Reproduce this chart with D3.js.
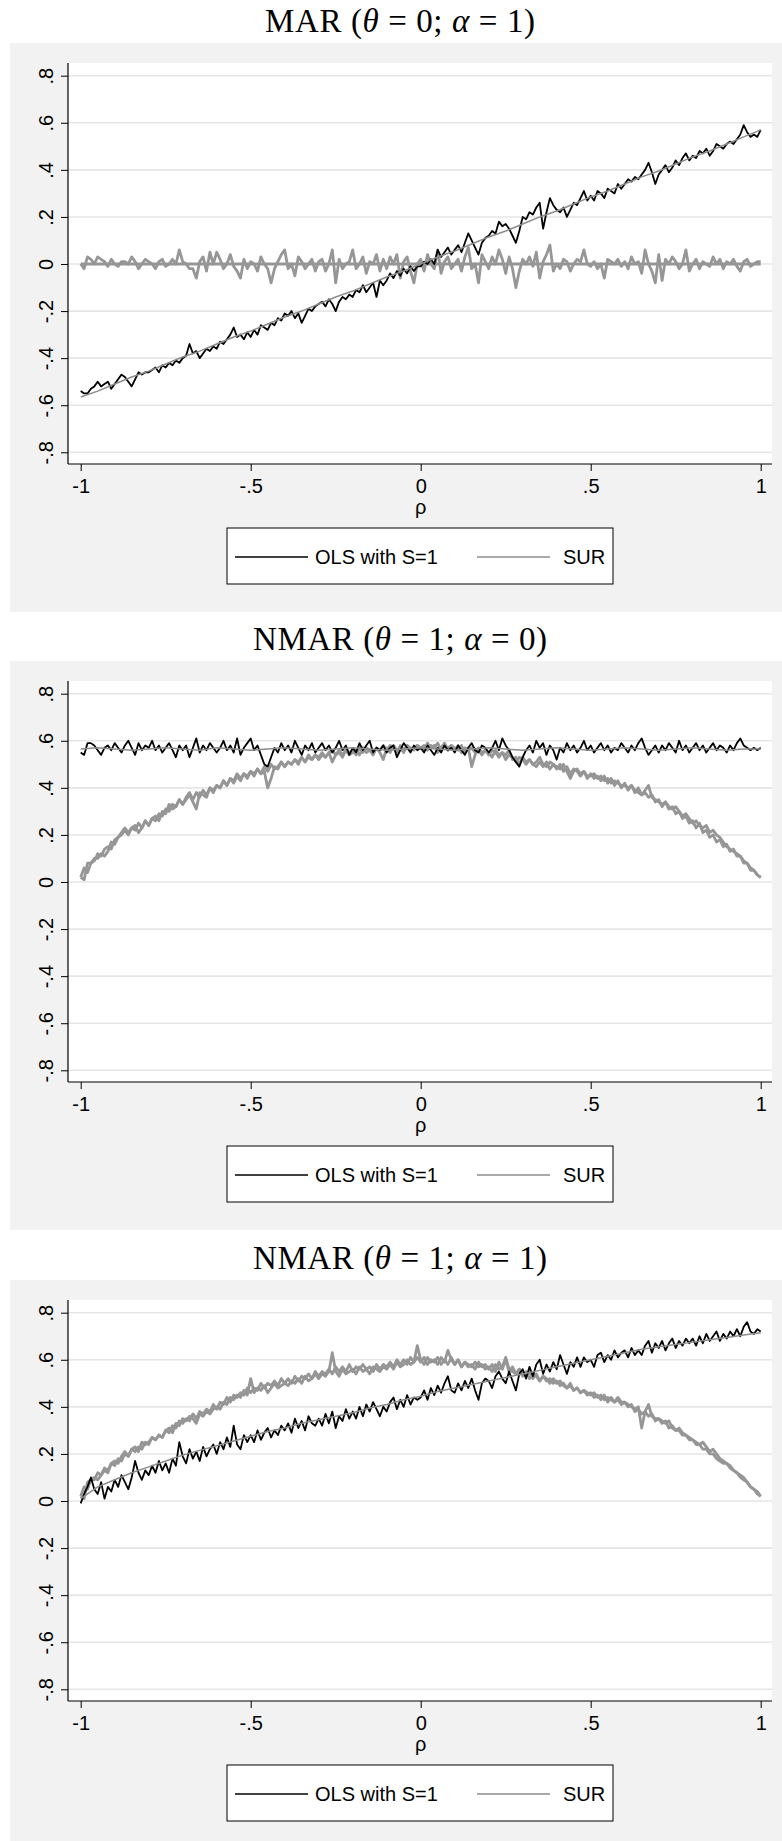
<!DOCTYPE html>
<html><head><meta charset="utf-8">
<script src="https://cdn.jsdelivr.net/npm/d3@7"></script>
<style>body{margin:0;background:#fff}svg{display:block}</style>
</head><body>
<svg id="c" width="782" height="1841"></svg>
<script>
// ---------- shared axes / categories ----------
const rho = [
-1,-.99,-.98,-.97,-.96,-.95,-.94,-.93,-.92,-.91,
-.9,-.89,-.88,-.87,-.86,-.85,-.84,-.83,-.82,-.81,
-.8,-.79,-.78,-.77,-.76,-.75,-.74,-.73,-.72,-.71,
-.7,-.69,-.68,-.67,-.66,-.65,-.64,-.63,-.62,-.61,
-.6,-.59,-.58,-.57,-.56,-.55,-.54,-.53,-.52,-.51,
-.5,-.49,-.48,-.47,-.46,-.45,-.44,-.43,-.42,-.41,
-.4,-.39,-.38,-.37,-.36,-.35,-.34,-.33,-.32,-.31,
-.3,-.29,-.28,-.27,-.26,-.25,-.24,-.23,-.22,-.21,
-.2,-.19,-.18,-.17,-.16,-.15,-.14,-.13,-.12,-.11,
-.1,-.09,-.08,-.07,-.06,-.05,-.04,-.03,-.02,-.01,
0,.01,.02,.03,.04,.05,.06,.07,.08,.09,
.1,.11,.12,.13,.14,.15,.16,.17,.18,.19,
.2,.21,.22,.23,.24,.25,.26,.27,.28,.29,
.3,.31,.32,.33,.34,.35,.36,.37,.38,.39,
.4,.41,.42,.43,.44,.45,.46,.47,.48,.49,
.5,.51,.52,.53,.54,.55,.56,.57,.58,.59,
.6,.61,.62,.63,.64,.65,.66,.67,.68,.69,
.7,.71,.72,.73,.74,.75,.76,.77,.78,.79,
.8,.81,.82,.83,.84,.85,.86,.87,.88,.89,
.9,.91,.92,.93,.94,.95,.96,.97,.98,.99,
1];
const rhoSmooth = [-1,-.95,-.9,-.85,-.8,-.75,-.7,-.65,-.6,-.55,-.5,-.45,-.4,-.35,-.3,-.25,-.2,-.15,-.1,-.05,0,.05,.1,.15,.2,.25,.3,.35,.4,.45,.5,.55,.6,.65,.7,.75,.8,.85,.9,.95,1];
const yTicks = [-0.8,-0.6,-0.4,-0.2,0,0.2,0.4,0.6,0.8];
const yTickLabels = ["-.8","-.6","-.4","-.2","0",".2",".4",".6",".8"];
const xTicks = [-1,-0.5,0,0.5,1];
const xTickLabels = ["-1","-.5","0",".5","1"];
const xLabel = "ρ";
const legendLabels = ["OLS with S=1","SUR"];
const title1 = [["MAR (",0],["θ",1],[" = 0; ",0],["α",1],[" = 1)",0]];
const title2 = [["NMAR (",0],["θ",1],[" = 1; ",0],["α",1],[" = 0)",0]];
const title3 = [["NMAR (",0],["θ",1],[" = 1; ",0],["α",1],[" = 1)",0]];

// ---------- panel 1: MAR ----------
const ols1 = [
-.54,-.55,-.55,-.53,-.52,-.50,-.52,-.51,-.50,-.53,
-.51,-.49,-.47,-.48,-.50,-.52,-.49,-.46,-.47,-.46,
-.46,-.45,-.44,-.46,-.43,-.44,-.42,-.43,-.41,-.42,
-.40,-.39,-.34,-.38,-.37,-.40,-.38,-.36,-.37,-.35,
-.36,-.33,-.34,-.32,-.30,-.27,-.31,-.30,-.32,-.29,
-.31,-.28,-.30,-.26,-.27,-.28,-.25,-.26,-.23,-.24,
-.21,-.22,-.20,-.23,-.21,-.25,-.22,-.19,-.20,-.18,
-.17,-.16,-.18,-.15,-.17,-.20,-.16,-.14,-.15,-.13,
-.14,-.11,-.12,-.09,-.12,-.10,-.08,-.14,-.07,-.09,
-.07,-.04,-.06,-.03,-.05,-.02,-.04,-.01,-.03,-.01,
-.01,.01,.00,.02,.00,.06,.03,.05,.07,.04,
.06,.08,.05,.09,.13,.10,.07,.04,.09,.11,
.12,.14,.13,.18,.16,.17,.15,.12,.09,.14,
.20,.19,.22,.21,.24,.26,.15,.22,.28,.25,
.23,.22,.24,.20,.23,.26,.25,.28,.31,.27,
.29,.27,.31,.30,.28,.32,.31,.30,.34,.32,
.34,.36,.35,.37,.36,.38,.40,.43,.39,.34,
.38,.40,.42,.39,.41,.44,.42,.45,.47,.44,
.46,.45,.48,.47,.49,.46,.48,.51,.50,.49,
.51,.52,.51,.53,.55,.59,.56,.54,.55,.54,
.57];
const olsFit1 = [-.565,-.54,-.51,-.48,-.455,-.425,-.395,-.37,-.34,-.31,-.285,-.255,-.225,-.2,-.17,-.14,-.115,-.085,-.055,-.03,0,.03,.055,.085,.115,.14,.17,.2,.225,.255,.285,.31,.34,.37,.395,.425,.455,.48,.51,.54,.57];
const sur1 = [
.00,-.02,.03,.02,.00,.03,.02,.01,-.01,.02,
.00,-.01,.01,.01,.00,.03,.01,-.02,.00,.02,
.01,.00,-.02,.01,.02,-.01,.00,.02,.00,.06,
.01,.00,-.02,-.02,-.06,.01,.03,-.03,.05,.00,
.05,.02,-.02,.00,.04,-.01,-.03,-.06,.02,-.02,
.01,.00,-.03,.03,.00,-.02,-.08,-.02,.01,.04,
.06,-.02,.00,-.05,.03,.01,-.02,.00,.02,-.03,
.01,.02,-.03,.00,.06,-.08,.02,-.02,.00,.01,
.06,-.02,.00,.03,-.04,.01,.00,.04,-.03,.02,
-.02,.03,.00,.04,-.06,.01,.03,-.03,-.08,.00,
.02,-.03,.04,.00,-.02,.06,-.04,.01,.03,-.02,
.00,.02,-.03,.03,.07,-.02,.00,-.08,.04,.01,
-.02,.03,.00,.06,.02,-.04,.03,-.02,-.10,-.03,
.02,.00,.03,-.01,.05,-.06,.01,.04,.08,-.03,
.00,-.02,.02,.01,-.03,.00,.02,.01,.06,.00,
-.01,.01,-.02,.00,-.06,.02,.01,.00,.02,-.01,
.01,-.02,.03,.00,.01,-.04,.06,.00,-.03,-.08,
.04,-.07,.02,.00,.03,.01,-.02,.00,.06,-.03,
.00,.02,-.02,.01,.00,-.01,.03,.00,.02,-.02,
.01,.00,.02,-.01,-.03,.01,.02,-.01,.00,.01,
.01];
const surFit1 = [0,0,0,0,0,0,0,0,0,0,0,0,0,0,0,0,0,0,0,0,0,0,0,0,0,0,0,0,0,0,0,0,0,0,0,0,0,0,0,0,0];

// ---------- panel 2: NMAR theta=1 alpha=0 ----------
const ols2 = [
.55,.54,.59,.59,.58,.56,.54,.57,.58,.56,
.59,.57,.55,.58,.60,.57,.54,.59,.56,.58,
.57,.60,.56,.58,.55,.57,.59,.56,.53,.58,
.56,.58,.53,.57,.61,.55,.58,.56,.59,.57,
.55,.57,.60,.56,.58,.55,.61,.54,.57,.59,
.61,.56,.58,.54,.50,.49,.53,.57,.55,.59,
.56,.58,.55,.60,.57,.54,.58,.56,.59,.55,
.57,.59,.56,.58,.55,.57,.60,.56,.58,.54,
.57,.55,.59,.56,.58,.60,.55,.57,.56,.58,
.55,.57,.58,.53,.56,.59,.57,.55,.58,.56,
.57,.55,.58,.56,.54,.57,.55,.58,.56,.57,
.55,.58,.56,.54,.57,.59,.56,.55,.58,.57,
.55,.57,.60,.56,.61,.58,.56,.53,.51,.49,
.53,.56,.58,.55,.60,.57,.59,.54,.58,.56,
.52,.57,.55,.59,.56,.58,.55,.57,.60,.56,
.58,.55,.57,.59,.56,.58,.55,.57,.56,.59,
.57,.55,.58,.56,.59,.61,.57,.54,.56,.58,
.55,.58,.56,.59,.57,.55,.60,.56,.58,.55,
.57,.59,.56,.58,.55,.57,.59,.56,.58,.57,
.55,.58,.56,.59,.61,.58,.57,.56,.57,.56,
.57];
const olsFit2 = [.565,.57,.565,.56,.565,.57,.565,.56,.57,.565,.56,.565,.57,.565,.56,.565,.57,.565,.56,.565,.57,.565,.56,.565,.57,.565,.56,.565,.57,.565,.56,.565,.57,.565,.56,.565,.57,.565,.56,.565,.565];
const sur2 = [
.02,.01,.08,.08,.10,.10,.12,.11,.13,.17,
.16,.19,.20,.22,.20,.23,.24,.21,.23,.26,
.24,.27,.28,.26,.30,.29,.33,.31,.32,.35,
.33,.35,.37,.34,.31,.38,.37,.36,.40,.38,
.41,.40,.43,.41,.44,.42,.45,.43,.46,.44,
.47,.45,.48,.46,.47,.40,.44,.49,.48,.51,
.49,.51,.50,.52,.50,.53,.51,.53,.52,.54,
.52,.54,.53,.55,.51,.54,.55,.53,.56,.54,
.55,.56,.54,.57,.55,.56,.54,.57,.55,.52,
.57,.55,.58,.56,.57,.55,.58,.56,.57,.58,
.57,.56,.59,.57,.58,.55,.57,.59,.56,.58,
.57,.56,.58,.55,.57,.49,.54,.57,.55,.56,
.54,.56,.55,.53,.55,.54,.56,.52,.53,.50,
.53,.51,.52,.50,.51,.53,.50,.49,.51,.50,
.49,.48,.50,.47,.44,.47,.48,.46,.47,.45,
.45,.46,.44,.45,.43,.44,.42,.43,.42,.41,
.41,.40,.41,.39,.38,.37,.39,.41,.36,.35,
.34,.33,.34,.32,.31,.32,.30,.28,.29,.27,
.25,.26,.24,.23,.24,.21,.22,.20,.19,.17,
.15,.14,.13,.12,.11,.09,.08,.06,.05,.03,
.02];
const surFit2 = [
.02,.06,.04,.08,.09,.12,.11,.14,.15,.14,
.18,.19,.21,.23,.21,.23,.22,.25,.23,.26,
.24,.27,.26,.29,.28,.31,.30,.33,.32,.35,
.33,.36,.38,.35,.38,.36,.39,.37,.40,.39,
.41,.40,.43,.41,.44,.43,.46,.44,.46,.45,
.47,.46,.48,.46,.49,.47,.50,.48,.49,.51,
.49,.51,.50,.52,.51,.53,.51,.54,.52,.54,
.53,.55,.53,.55,.56,.54,.56,.54,.56,.55,
.56,.54,.57,.55,.57,.56,.55,.57,.56,.58,
.56,.58,.57,.55,.58,.56,.58,.57,.56,.58,
.57,.58,.56,.58,.57,.59,.56,.58,.57,.58,
.56,.58,.55,.57,.56,.57,.55,.56,.54,.56,
.55,.53,.56,.54,.55,.52,.54,.53,.51,.53,
.52,.50,.52,.50,.49,.51,.49,.51,.48,.50,
.48,.50,.47,.49,.46,.48,.47,.45,.47,.44,
.46,.44,.45,.43,.45,.42,.44,.41,.43,.40,
.42,.39,.41,.38,.40,.37,.38,.36,.37,.34,
.35,.32,.34,.31,.32,.29,.30,.27,.28,.25,
.26,.23,.25,.21,.22,.19,.20,.17,.18,.15,
.16,.13,.14,.11,.11,.08,.08,.05,.05,.03,
.02];

// ---------- panel 3: NMAR theta=1 alpha=1 ----------
const ols3 = [
-.01,.03,.06,.10,.05,.03,.08,.01,.06,.04,
.09,.06,.11,.08,.05,.10,.17,.12,.09,.13,
.11,.15,.12,.17,.13,.16,.12,.18,.15,.25,
.19,.16,.22,.18,.21,.17,.23,.19,.22,.24,
.20,.25,.22,.27,.23,.32,.24,.22,.28,.25,
.28,.25,.30,.26,.29,.31,.27,.30,.28,.32,
.30,.33,.29,.35,.31,.34,.30,.36,.33,.32,
.35,.32,.37,.33,.38,.31,.36,.34,.39,.35,
.38,.35,.40,.36,.41,.38,.42,.39,.36,.40,
.38,.42,.44,.39,.43,.40,.45,.41,.44,.43,
.44,.47,.43,.48,.45,.49,.46,.50,.53,.47,
.46,.50,.47,.51,.48,.52,.47,.43,.50,.52,
.51,.48,.53,.55,.52,.50,.55,.51,.47,.54,
.56,.52,.57,.53,.58,.60,.54,.58,.55,.59,
.56,.62,.58,.54,.59,.57,.61,.57,.61,.59,
.60,.57,.62,.63,.59,.62,.60,.64,.61,.63,
.64,.61,.65,.62,.64,.62,.66,.68,.63,.67,
.65,.68,.64,.67,.69,.65,.68,.66,.69,.67,
.69,.66,.70,.67,.71,.68,.70,.72,.68,.71,
.69,.72,.70,.73,.70,.74,.76,.72,.71,.73,
.72];
const olsFit3 = [.01,.06,.09,.12,.145,.17,.195,.215,.235,.255,.275,.295,.31,.33,.345,.36,.375,.395,.41,.43,.445,.465,.48,.495,.51,.525,.54,.555,.57,.585,.60,.615,.63,.645,.655,.665,.675,.685,.695,.705,.715];
const sur3 = [
.02,.01,.08,.09,.10,.09,.11,.13,.12,.16,
.17,.16,.19,.21,.19,.22,.23,.21,.25,.24,
.25,.27,.26,.28,.27,.30,.31,.29,.33,.32,
.35,.34,.36,.35,.33,.37,.36,.38,.37,.39,
.40,.39,.42,.41,.44,.43,.45,.44,.47,.45,
.52,.46,.48,.47,.49,.46,.48,.50,.48,.49,
.50,.49,.51,.50,.52,.50,.53,.51,.52,.54,
.52,.54,.53,.55,.63,.55,.53,.56,.54,.55,
.56,.54,.57,.55,.56,.54,.57,.56,.55,.57,
.56,.58,.56,.59,.57,.58,.60,.58,.59,.66,
.60,.58,.61,.59,.60,.58,.61,.59,.64,.60,
.58,.60,.57,.59,.58,.57,.59,.57,.58,.56,
.57,.55,.58,.56,.57,.61,.56,.55,.54,.56,
.53,.55,.52,.54,.53,.51,.53,.52,.50,.52,
.50,.51,.49,.48,.50,.47,.48,.46,.47,.46,
.45,.46,.44,.45,.43,.44,.43,.42,.44,.42,
.42,.41,.40,.39,.40,.31,.38,.41,.36,.35,
.35,.34,.33,.34,.31,.30,.31,.29,.28,.27,
.26,.25,.24,.25,.23,.21,.22,.20,.18,.17,
.16,.15,.13,.12,.11,.10,.08,.06,.05,.03,
.02];
const surFit3 = [
.02,.06,.05,.09,.09,.12,.11,.14,.13,.16,
.15,.18,.17,.20,.19,.22,.21,.23,.22,.25,
.24,.27,.26,.28,.27,.30,.29,.32,.31,.34,
.33,.35,.34,.37,.35,.38,.37,.39,.38,.41,
.39,.42,.41,.44,.42,.45,.44,.46,.45,.48,
.46,.48,.47,.50,.48,.50,.49,.51,.49,.52,
.50,.52,.50,.53,.51,.53,.52,.54,.52,.55,
.53,.55,.54,.56,.54,.57,.55,.57,.55,.58,
.55,.57,.56,.58,.56,.57,.55,.58,.56,.58,
.57,.59,.57,.60,.58,.60,.58,.61,.59,.61,
.59,.61,.58,.60,.59,.61,.58,.60,.58,.61,
.58,.60,.57,.59,.57,.58,.56,.59,.57,.58,
.56,.58,.55,.59,.56,.60,.55,.57,.54,.56,
.55,.53,.55,.52,.54,.51,.53,.51,.52,.50,
.51,.49,.50,.48,.49,.47,.48,.46,.47,.45,
.46,.44,.45,.43,.45,.42,.44,.42,.43,.41,
.42,.40,.41,.38,.39,.37,.38,.36,.37,.34,
.35,.33,.34,.31,.32,.30,.30,.28,.28,.26,
.26,.24,.24,.22,.22,.20,.20,.18,.17,.16,
.16,.14,.13,.12,.10,.09,.08,.06,.05,.04,
.02];

// ---------- drawing ----------
const panels = [
  {title: title1, titleW: 270, ols: ols1, olsFit: olsFit1, sur: sur1, surFit: surFit1, surFitX: rhoSmooth},
  {title: title2, titleW: 294, ols: ols2, olsFit: olsFit2, sur: sur2, surFit: surFit2, surFitX: rho},
  {title: title3, titleW: 294, ols: ols3, olsFit: olsFit3, sur: sur3, surFit: surFit3, surFitX: rho}
];
const panelTops = [43, 661, 1280];
const BLACK = "#000", THICK = "#969696", THIN = "#8c8c8c";
const sans = "'Liberation Sans', Arial, Helvetica, sans-serif";
const svg = d3.select("#c");
svg.append("rect").attr("width",782).attr("height",1841).attr("fill","#fff");

panels.forEach((p, i) => {
  const G = panelTops[i];
  const g = svg.append("g");
  g.append("rect").attr("x",10).attr("y",G).attr("width",772).attr("height",569).attr("fill","#f2f2f2");

  const t = g.append("text").attr("x",400).attr("y",G-11)
    .attr("text-anchor","middle")
    .attr("font-family","'Liberation Serif','Times New Roman',serif")
    .attr("font-size",33).attr("fill","#000")
    .attr("textLength",p.titleW).attr("lengthAdjust","spacing");
  p.title.forEach(([s,it]) => t.append("tspan").attr("font-style", it ? "italic" : "normal").text(s));

  const x = d3.scaleLinear().domain([-1,1]).range([80.7,760.7]);
  const y = d3.scaleLinear().domain([-0.8,0.8]).range([G+409.3,G+32.7]);

  g.append("rect").attr("x",68).attr("y",G+20).attr("width",704).attr("height",401).attr("fill","#fff");
  g.append("g").selectAll("line").data(yTicks).join("line")
    .attr("x1",68).attr("x2",772).attr("y1",d=>y(d)).attr("y2",d=>y(d))
    .attr("stroke","#e6e6e6").attr("stroke-width",1.6);

  const line = xs => d3.line().x((d,k)=>x(xs[k])).y(d=>y(d));
  const plot = g.append("g").attr("fill","none").attr("stroke-linejoin","round");
  plot.append("path").attr("d", line(p.surFitX)(p.surFit)).attr("stroke",THICK).attr("stroke-width",2.8);
  plot.append("path").attr("d", line(rho)(p.sur)).attr("stroke",THICK).attr("stroke-width",2.8);
  plot.append("path").attr("d", line(rho)(p.ols)).attr("stroke",BLACK).attr("stroke-width",1.8);
  plot.append("path").attr("d", line(rhoSmooth)(p.olsFit)).attr("stroke",THIN).attr("stroke-width",1.5);

  // y axis
  const ya = g.append("g").attr("transform","translate(68,0)")
    .call(d3.axisLeft(y).tickValues(yTicks).tickFormat((d,k)=>yTickLabels[k]).tickSize(7).tickSizeOuter(0));
  ya.select(".domain").remove();
  ya.selectAll(".tick line").attr("stroke","#000");
  ya.selectAll(".tick text").attr("x",null).attr("y",null).attr("dy",null)
    .attr("transform","translate(-15,0) rotate(-90)").attr("text-anchor","middle")
    .attr("font-family",sans).attr("font-size",20).attr("fill","#000");
  // x axis
  const xa = g.append("g").attr("transform",`translate(0,${G+421})`)
    .call(d3.axisBottom(x).tickValues(xTicks).tickFormat((d,k)=>xTickLabels[k]).tickSize(7).tickSizeOuter(0));
  xa.select(".domain").remove();
  xa.selectAll(".tick line").attr("stroke","#000");
  xa.selectAll(".tick text").attr("y",29).attr("dy",null)
    .attr("font-family",sans).attr("font-size",20).attr("fill","#000");
  g.append("line").attr("x1",68).attr("x2",68).attr("y1",G+20).attr("y2",G+421).attr("stroke","#000").attr("stroke-width",1.2);
  g.append("line").attr("x1",68).attr("x2",772).attr("y1",G+421).attr("y2",G+421).attr("stroke","#000").attr("stroke-width",1.2);

  g.append("text").attr("x",420.7).attr("y",G+471).attr("text-anchor","middle")
    .attr("font-family",sans).attr("font-size",20).text(xLabel);

  // legend
  const L = g.append("g");
  L.append("rect").attr("x",227).attr("y",G+485).attr("width",386).attr("height",56)
    .attr("fill","#fff").attr("stroke","#000").attr("stroke-width",1);
  L.append("line").attr("x1",235).attr("x2",308).attr("y1",G+514).attr("y2",G+514).attr("stroke",BLACK).attr("stroke-width",1.6);
  L.append("text").attr("x",315).attr("y",G+521).attr("font-family",sans).attr("font-size",20).text(legendLabels[0]);
  L.append("line").attr("x1",477).attr("x2",550).attr("y1",G+514).attr("y2",G+514).attr("stroke",THIN).attr("stroke-width",1.6);
  L.append("text").attr("x",563).attr("y",G+521).attr("font-family",sans).attr("font-size",20).text(legendLabels[1]);
});
</script>
</body></html>
